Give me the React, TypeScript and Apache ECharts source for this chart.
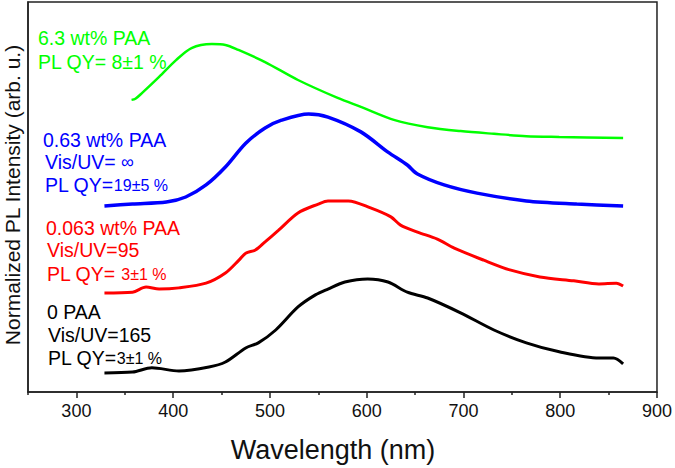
import React, { useEffect, useRef } from "react";
import * as echarts from "echarts";

const majorTicks = [300, 400, 500, 600, 700, 800, 900];
const minorTicks = [250, 350, 450, 550, 650, 750, 850];

const greenWl = [357, 361, 368, 385.5, 403, 419, 440, 454, 467.5, 495, 529, 570, 594, 629, 663, 697, 731.5, 765, 799, 865];
const greenVal = [74.9, 75.2, 76.7, 80.8, 85.1, 88.2, 89.2, 89.0, 87.7, 84.6, 80, 75.4, 73.1, 69.7, 67.9, 66.9, 66.2, 65.6, 65.4, 65.1];

const blueWl = [329, 358, 393, 413, 434, 454, 475, 495, 512, 540, 560, 594, 622, 642, 652.5, 680, 714, 765, 817, 865];
const blueVal = [47.7, 48.2, 48.7, 50, 53.1, 57.7, 63.8, 67.7, 69.7, 71.3, 70.5, 66.7, 61.5, 58.2, 55.9, 53.1, 51, 49, 48.2, 47.7];

const redWl = [329, 358, 372, 385.5, 406, 434, 454, 468, 475, 485, 495, 509, 529, 550, 560, 581, 604, 625, 635, 652.5, 673, 690.5, 721, 748, 779, 814, 840, 858, 865];
const redVal = [25.4, 25.6, 26.9, 26.4, 26.7, 27.9, 30.5, 33.8, 35.6, 36.4, 38.5, 41.5, 45.9, 48.2, 49, 49, 47.2, 44.9, 42.8, 41, 39.2, 36.9, 33.8, 31.3, 29.5, 28.5, 27.7, 27.9, 27.2];

const blackWl = [329, 358, 378, 406, 437, 454, 475, 488, 506, 529, 547, 560, 577.5, 601, 622, 642, 663, 697, 731.5, 765, 799, 840, 855, 865];
const blackVal = [4.9, 5.1, 6.2, 5.4, 6.4, 7.7, 11.3, 12.6, 15.9, 21.8, 24.9, 26.4, 28.2, 29, 28.2, 25.6, 24.1, 20.3, 15.9, 12.6, 10.3, 8.7, 8.7, 7.2];

const FONT = "'Liberation Sans', Arial, sans-serif";

const pair = (xs: number[], ys: number[]) => xs.map((x, i) => [x, ys[i]]);

function label(x: number, y: number, color: string, main: string, small?: string, smallSize = 16) {
  const text = small !== undefined ? `{a|${main}}{b|${small}}` : `{a|${main}}`;
  return {
    type: "text",
    x,
    y,
    silent: true,
    style: {
      text,
      fill: color,
      fontFamily: FONT,
      fontSize: 19.5,
      textAlign: "left",
      textVerticalAlign: "middle",
      rich: {
        a: { fill: color, fontFamily: FONT, fontSize: 19.5, verticalAlign: "middle" },
        b: { fill: color, fontFamily: FONT, fontSize: smallSize, verticalAlign: "middle" },
      },
    },
  };
}

export default function App() {
  const ref = useRef<HTMLDivElement>(null);
  useEffect(() => {
    const chart = echarts.init(ref.current!, null, { renderer: "svg" });
    const mk = (name: string, xs: number[], ys: number[], color: string, width: number) => ({
      name,
      type: "line",
      xAxisIndex: 0,
      data: pair(xs, ys),
      showSymbol: false,
      smooth: 0.3,
      lineStyle: { color, width },
      itemStyle: { color },
    });
    chart.setOption({
      animation: false,
      backgroundColor: "#fff",
      grid: {
        left: 28,
        right: 16,
        top: 2,
        bottom: 76,
        show: true,
        borderColor: "#222",
        borderWidth: 1.5,
        backgroundColor: "transparent",
      },
      xAxis: [
        {
          type: "value",
          min: 250,
          max: 900,
          interval: 50,
          position: "bottom",
          axisLine: { show: true, lineStyle: { color: "#222", width: 1.5 } },
          axisTick: { show: true, customValues: majorTicks, length: 6, lineStyle: { color: "#222", width: 1.5 } },
          axisLabel: {
            show: true,
            customValues: majorTicks,
            margin: 10,
            fontSize: 18,
            fontFamily: FONT,
            color: "#111",
          },
          splitLine: { show: false },
        },
        {
          type: "value",
          min: 250,
          max: 900,
          interval: 50,
          position: "bottom",
          axisLine: { show: false },
          axisTick: { show: true, customValues: minorTicks, length: 3, lineStyle: { color: "#222", width: 1.5 } },
          axisLabel: { show: false },
          splitLine: { show: false },
        },
      ],
      yAxis: {
        type: "value",
        min: 0,
        max: 100,
        axisLine: { show: true, lineStyle: { color: "#222", width: 1.5 } },
        axisTick: { show: false },
        axisLabel: { show: false },
        splitLine: { show: false },
      },
      series: [
        mk("6.3 wt% PAA", greenWl, greenVal, "#00ff00", 2.5),
        mk("0.63 wt% PAA", blueWl, blueVal, "#0000ff", 3.5),
        mk("0.063 wt% PAA", redWl, redVal, "#ff0000", 3),
        mk("0 PAA", blackWl, blackVal, "#000000", 3),
      ],
      graphic: [
        label(38, 38, "#00ff00", "6.3 wt% PAA"),
        label(38, 62, "#00ff00", "PL QY= 8±1 %"),
        label(43, 140, "#0000ff", "0.63 wt% PAA"),
        label(45, 162, "#0000ff", "Vis/UV= ", "∞", 18),
        label(45, 185, "#0000ff", "PL QY=", "19±5 %"),
        label(46, 228, "#ff0000", "0.063 wt% PAA"),
        label(47, 250, "#ff0000", "Vis/UV=95"),
        label(47, 274, "#ff0000", "PL QY= ", "3±1 %"),
        label(47, 312, "#000000", "0 PAA"),
        label(48, 335, "#000000", "Vis/UV=165"),
        label(48, 358, "#000000", "PL QY=", "3±1 %"),
        {
          type: "text",
          x: 12,
          y: 195,
          rotation: Math.PI / 2,
          silent: true,
          style: {
            text: "Normalized PL Intensity (arb. u.)",
            fill: "#111",
            fontFamily: FONT,
            fontSize: 21,
            textAlign: "center",
            textVerticalAlign: "middle",
          },
        },
        {
          type: "text",
          x: 333,
          y: 450,
          silent: true,
          style: {
            text: "Wavelength (nm)",
            fill: "#111",
            fontFamily: FONT,
            fontSize: 27,
            textAlign: "center",
            textVerticalAlign: "middle",
          },
        },
      ],
    });
    return () => chart.dispose();
  }, []);
  return (
    <div
      ref={ref}
      style={{ position: "absolute", left: 0, top: 0, width: 675, height: 468 }}
    />
  );
}
